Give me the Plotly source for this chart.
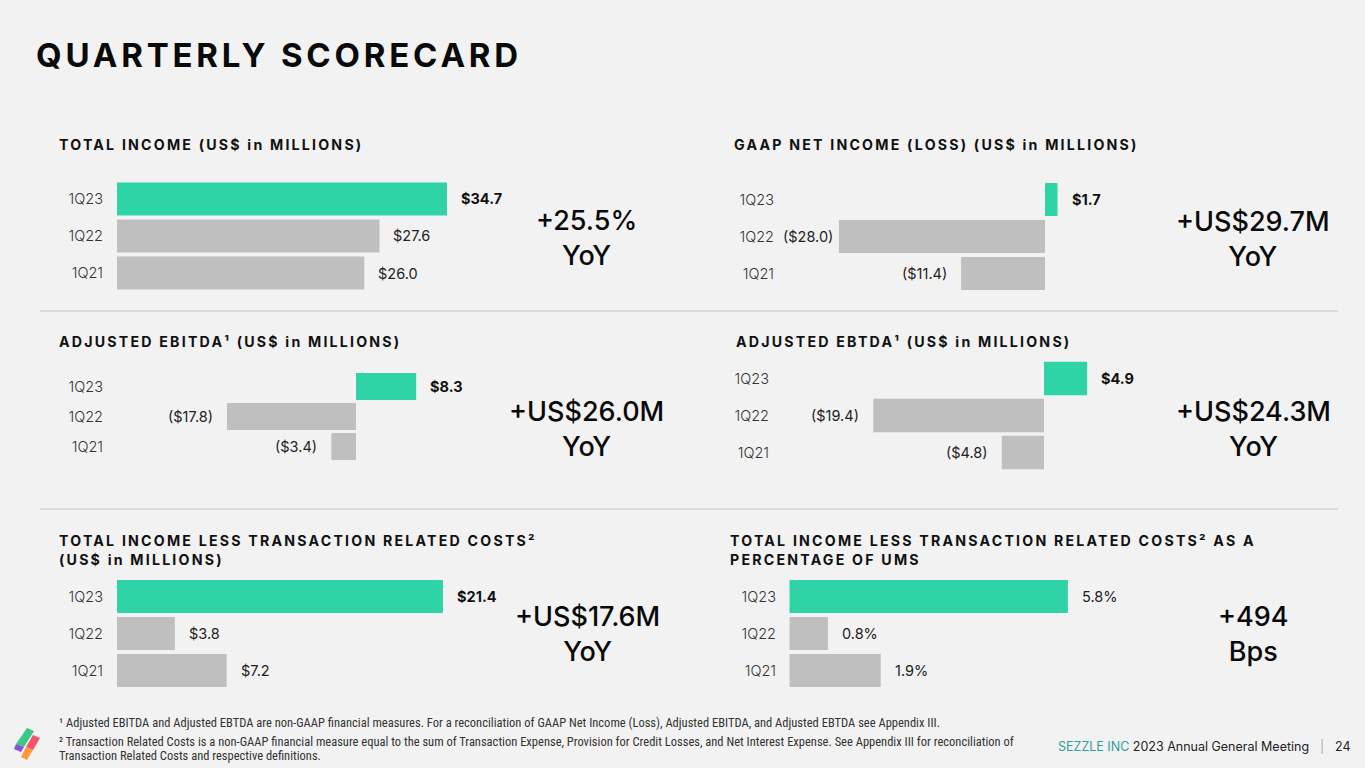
import json
import plotly.graph_objects as go

# ---------------- data ----------------
categories = ["1Q21", "1Q22", "1Q23"]
total_income = [26.0, 27.6, 34.7]
gaap_net_income = [-11.4, -28.0, 1.7]
adjusted_ebitda = [-3.4, -17.8, 8.3]
adjusted_ebtda = [-4.8, -19.4, 4.9]
ti_less_trc = [7.2, 3.8, 21.4]
ti_less_trc_pct_ums = [1.9, 0.8, 5.8]

panel_titles = [
    ["TOTAL INCOME (US$ in MILLIONS)"],
    ["GAAP NET INCOME (LOSS) (US$ in MILLIONS)"],
    ["ADJUSTED EBITDA\u00b9 (US$ in MILLIONS)"],
    ["ADJUSTED EBTDA\u00b9 (US$ in MILLIONS)"],
    ["TOTAL INCOME LESS TRANSACTION RELATED COSTS\u00b2", "(US$ in MILLIONS)"],
    ["TOTAL INCOME LESS TRANSACTION RELATED COSTS\u00b2 AS A", "PERCENTAGE OF UMS"],
]
change_labels = [
    ["+25.5%", "YoY"],
    ["+US$29.7M", "YoY"],
    ["+US$26.0M", "YoY"],
    ["+US$24.3M", "YoY"],
    ["+US$17.6M", "YoY"],
    ["+494", "Bps"],
]
main_title = "QUARTERLY SCORECARD"
footnotes = [
    "\u00b9 Adjusted EBITDA and Adjusted EBTDA are non-GAAP financial measures. For a reconciliation of GAAP Net Income (Loss), Adjusted EBITDA, and Adjusted EBTDA see Appendix III.",
    "\u00b2 Transaction Related Costs is a non-GAAP financial measure equal to the sum of Transaction Expense, Provision for Credit Losses, and Net Interest Expense. See Appendix III for reconciliation of",
    "Transaction Related Costs and respective definitions.",
]
company = "SEZZLE INC"
event = "2023 Annual General Meeting"
page_no = "24"

series = [total_income, gaap_net_income, adjusted_ebitda, adjusted_ebtda,
          ti_less_trc, ti_less_trc_pct_ums]
kinds = ["usd", "usd", "usd", "usd", "usd", "pct"]

# ---------------- layout / style ----------------
W, H = 1365, 768
BG = "#F2F2F2"
GREEN = "#2ED3A6"
GRAY = "#BFBFBF"
FONT = "Inter, Roboto, sans-serif"
NARROW = "Liberation Sans Narrow, Roboto Condensed, Roboto, sans-serif"

panels = [
    dict(zero=117, scale=9.51, dom=(105, 520), top=199, sp=37, th=33, lab=101,
         title=(57, [144]), chg=(586, 237.5), bold_hi=True),
    dict(zero=1045, scale=7.36, dom=(790, 1160), top=199.5, sp=37, th=33, lab=772,
         title=(732, [144]), chg=(1253, 238.5), bold_hi=True),
    dict(zero=356, scale=7.25, dom=(105, 520), top=386.5, sp=30, th=27, lab=101,
         title=(57, [341]), chg=(586, 428.5), bold_hi=True),
    dict(zero=1044, scale=8.8, dom=(790, 1160), top=378.5, sp=37, th=33.5, lab=767,
         title=(734, [341]), chg=(1253, 429), bold_hi=True),
    dict(zero=117, scale=15.23, dom=(105, 520), top=596.5, sp=37, th=33, lab=101,
         title=(57, [540, 559]), chg=(587, 633.5), bold_hi=True),
    dict(zero=789.5, scale=48.0, dom=(780, 1160), top=596.5, sp=37, th=33, lab=774,
         title=(728, [540, 559]), chg=(1253, 633.5), bold_hi=False),
]
label_gap = {(2, "1Q22"): 4}
DEFAULT_GAP = 12


def px(x):
    return x / W


def py(y):
    return 1 - y / H


def fmt(v, kind):
    if kind == "pct":
        return f"{v:.1f}%"
    if v < 0:
        return f"(${abs(v):.1f})"
    return f"${v:.1f}"


fig = go.Figure()
annotations = []
shapes = []
layout_axes = {}

for i, (vals, kind, p) in enumerate(zip(series, kinds, panels), start=1):
    xa = "x" if i == 1 else f"x{i}"
    ya = "y" if i == 1 else f"y{i}"
    colors = [GRAY] * (len(vals) - 1) + [GREEN]
    fig.add_trace(go.Bar(
        x=vals, y=categories, orientation="h", xaxis=xa, yaxis=ya,
        marker=dict(color=colors, line=dict(width=0)),
        width=p["th"] / p["sp"], showlegend=False, hoverinfo="skip",
    ))
    x0, x1 = p["dom"]
    r0 = (x0 - p["zero"]) / p["scale"]
    r1 = (x1 - p["zero"]) / p["scale"]
    y_top = p["top"] - p["sp"] / 2
    y_bot = p["top"] + p["sp"] * (len(categories) - 1) + p["sp"] / 2
    xkey = "xaxis" if i == 1 else f"xaxis{i}"
    ykey = "yaxis" if i == 1 else f"yaxis{i}"
    layout_axes[xkey] = dict(domain=[px(x0), px(x1)], range=[r0, r1], visible=False,
                             anchor=ya, fixedrange=True)
    layout_axes[ykey] = dict(domain=[py(y_bot), py(y_top)], range=[-0.5, len(categories) - 0.5],
                             type="category", categoryorder="array", categoryarray=categories,
                             anchor="free", position=px(p["lab"] + 2),
                             showgrid=False, zeroline=False, showline=False, ticks="",
                             tickfont=dict(family=FONT, size=14.5, color="#333333", weight=300),
                             fixedrange=True)
    for j, (c, v) in enumerate(zip(categories, vals)):
        hi = j == len(vals) - 1
        bold = hi and p["bold_hi"]
        gap = label_gap.get((i, c), DEFAULT_GAP)
        annotations.append(dict(
            x=v, y=c, xref=xa, yref=ya, text=fmt(v, kind), showarrow=False,
            xanchor="left" if v >= 0 else "right", xshift=gap if v >= 0 else -gap,
            yanchor="middle",
            font=dict(family=FONT, size=14.5, color="#111111" if bold else "#222222",
                      weight=700 if bold else 400),
        ))
    tx, tys = p["title"]
    for line, ty in zip(panel_titles[i - 1], tys):
        annotations.append(dict(
            x=px(tx), y=py(ty), xref="paper", yref="paper", text=line, showarrow=False,
            xanchor="left", yanchor="middle",
            font=dict(family=FONT, size=14.2, color="#111111", weight=700),
        ))
    cx, cy = p["chg"]
    annotations.append(dict(
        x=px(cx), y=py(cy), xref="paper", yref="paper",
        text="<br>".join(change_labels[i - 1]), showarrow=False,
        xanchor="center", yanchor="middle", align="center",
        font=dict(family=FONT, size=27, color="#0A0A0A", weight=500),
    ))

annotations.append(dict(
    x=px(34), y=py(55), xref="paper", yref="paper", text=main_title, showarrow=False,
    xanchor="left", yanchor="middle",
    font=dict(family=FONT, size=33, color="#0A0A0A", weight=700),
))

for yy in (311, 509):
    shapes.append(dict(type="line", xref="paper", yref="paper",
                       x0=px(40), x1=px(1338), y0=py(yy), y1=py(yy),
                       line=dict(color="#D2D2D2", width=1.5)))

for line, fy in zip(footnotes, (722, 741, 755)):
    annotations.append(dict(
        x=px(57), y=py(fy), xref="paper", yref="paper", text=line, showarrow=False,
        xanchor="left", yanchor="middle",
        font=dict(family=NARROW, size=12.5, color="#333333"),
    ))

annotations.append(dict(
    x=px(1311), y=py(746), xref="paper", yref="paper",
    text=f'<span style="color:#2E9E9A">{company}</span> {event}', showarrow=False,
    xanchor="right", yanchor="middle",
    font=dict(family=FONT, size=12.5, color="#222222"),
))
annotations.append(dict(
    x=px(1322), y=py(746), xref="paper", yref="paper", text="|", showarrow=False,
    xanchor="center", yanchor="middle", font=dict(family=FONT, size=12.5, color="#AAAAAA"),
))
annotations.append(dict(
    x=px(1333), y=py(746), xref="paper", yref="paper", text=page_no, showarrow=False,
    xanchor="left", yanchor="middle", font=dict(family=FONT, size=12.5, color="#222222"),
))


def path(pts):
    return "M " + " L ".join(f"{px(a):.5f},{py(b):.5f}" for a, b in pts) + " Z"


logo = [
    ([(27, 728), (34, 731), (24, 747), (16, 744)], "#38C98B"),
    ([(16, 744), (24, 747), (21, 752), (14, 749)], "#8E4FD8"),
    ([(33, 735), (40, 738), (33, 750), (26, 747)], "#F2546B"),
    ([(26, 747), (33, 750), (27, 760), (21, 757)], "#FF9A3C"),
]
for pts, col in logo:
    shapes.append(dict(type="path", xref="paper", yref="paper", path=path(pts),
                       fillcolor=col, line=dict(width=0), layer="above"))

fig.update_layout(
    width=W, height=H, margin=dict(l=0, r=0, t=0, b=0),
    paper_bgcolor=BG, plot_bgcolor="rgba(0,0,0,0)",
    annotations=annotations, shapes=shapes, showlegend=False,
    barmode="relative",
    **layout_axes,
)

spacing = {main_title: 3.8}
for lines in panel_titles:
    for line in lines:
        spacing[line] = 2.2

post = """
document.body.style.margin = '0';
document.body.style.overflow = 'hidden';
document.body.style.background = '#F2F2F2';
var gd = document.getElementById('{plot_id}');
var spec = %s;
gd.querySelectorAll('text.annotation-text').forEach(function(t){
  var s = spec[t.textContent];
  if (s === undefined) return;
  var b0 = t.getBBox();
  t.style.letterSpacing = s + 'px';
  var b1 = t.getBBox();
  var dx = b0.x - b1.x;
  t.setAttribute('transform', (t.getAttribute('transform') || '') + ' translate(' + dx + ',0)');
});
""" % json.dumps(spacing)

fig.write_html("out.html", post_script=post, config={"displayModeBar": False})
